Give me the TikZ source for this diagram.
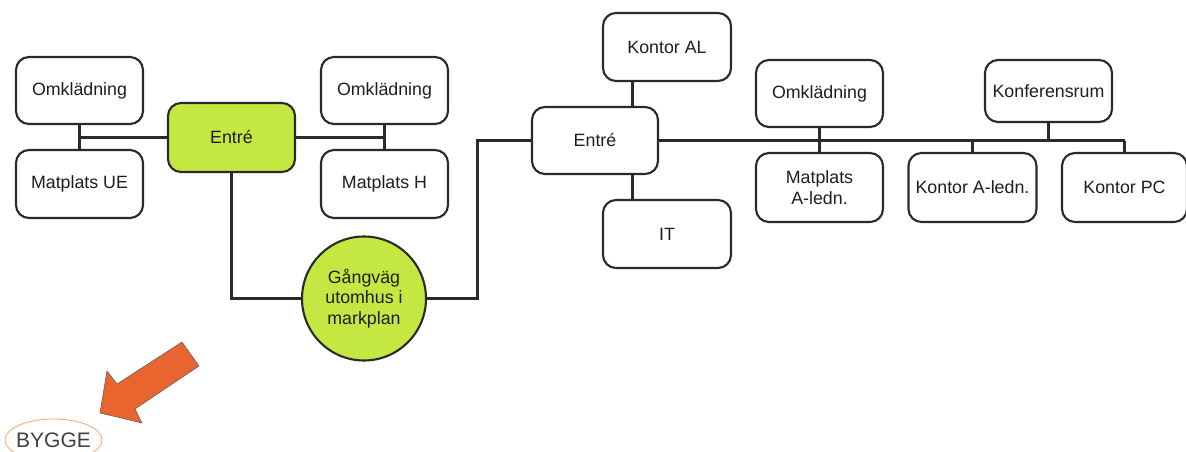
\documentclass[tikz,border=0pt]{standalone}
\usepackage{fontspec}
\setmainfont{Liberation Sans}
\definecolor{edge}{HTML}{2A2A2A}
\definecolor{lime}{HTML}{C4E841}
\definecolor{arroworange}{HTML}{E8652F}
\definecolor{ringorange}{HTML}{F5A56C}
\definecolor{txt}{HTML}{1E1E1E}
\tikzset{
  room/.style={draw=edge, line width=2.1pt, rounded corners=13pt, fill=white,
    inner sep=0pt, align=center, text=txt,
    font=\fontsize{17.8}{20.5}\selectfont},
  greenroom/.style={room, fill=lime},
  path node/.style={circle, draw=edge, line width=2.1pt, fill=lime, inner sep=0pt,
    minimum size=124pt, align=center, text=txt, font=\fontsize{17.8}{20.5}\selectfont},
  link/.style={draw=edge, line width=2.2pt},
}
\begin{document}
\begin{tikzpicture}[x=1pt, y=-1pt]
\useasboundingbox (0,0) rectangle (1186,452);

\coordinate (bend) at (477.5,298.5);
\coordinate (vline) at (632.5,0);

% left building part
\node[room, minimum width=127pt, minimum height=67pt] (omkL) at (79.5,90.5) {Omklädning};
\node[room, minimum width=127pt, minimum height=68pt] (matUE) at (79.5,184) {Matplats UE};
\node[greenroom, minimum width=127pt, minimum height=69pt] (entreL) at (231.5,137.5) {Entré};
\node[room, minimum width=127pt, minimum height=67pt] (omkR) at (384.5,90.5) {Omklädning};
\node[room, minimum width=127pt, minimum height=68pt] (matH) at (384.5,184) {Matplats H};

% outdoor walkway
\node[path node] (walk) at (364,298.5) {Gångväg\\utomhus i\\markplan};

% right building part
\node[room, minimum width=126pt, minimum height=67pt] (entreR) at (595,140.5) {Entré};
\node[room, minimum width=128pt, minimum height=68pt] (kAL) at (667,47) {Kontor AL};
\node[room, minimum width=128pt, minimum height=68pt] (it) at (667,234) {IT};
\node[room, minimum width=127pt, minimum height=67pt] (omk3) at (819.5,93.5) {Omklädning};
\node[room, minimum width=127pt, minimum height=69pt] (matA) at (819.5,187.5) {Matplats\\A-ledn.};
\node[room, minimum width=127pt, minimum height=62pt] (konf) at (1048.5,91) {Konferensrum};
\node[room, minimum width=128pt, minimum height=69pt] (kA) at (972.5,187.5) {Kontor A-ledn.};
\node[room, minimum width=125pt, minimum height=69pt] (kPC) at (1124.5,187.5) {Kontor PC};

% connectors, left part
\draw[link] (omkL.south) -- (matUE.north);
\draw[link] (omkL.south |- entreL.west) -- (entreL.west);
\draw[link] (omkR.south) -- (matH.north);
\draw[link] (entreL.east) -- (omkR.south |- entreL.east);
\draw[link] (entreL.south) |- (walk.west);

% walkway to right entrance
\draw[link] (walk.east) -- (bend) |- (entreR.west);

% connectors, right part
\draw[link] (kAL.south -| vline) -- (entreR.north -| vline);
\draw[link] (entreR.south -| vline) -- (it.north -| vline);
\draw[link] (entreR.east) -- (kPC.north |- entreR.east);
\draw[link] (omk3.south) -- (matA.north);
\draw[link] (konf.south) -- (konf.south |- entreR.east);
\draw[link] (kA.north |- entreR.east) -- (kA.north);
\draw[link] (kPC.north |- entreR.east) -- (kPC.north);

% pointer arrow
\coordinate (a1) at (182,342);
\coordinate (a2) at (117,384);
\coordinate (a3) at (107,371);
\coordinate (a4) at (100,413);
\coordinate (a5) at (142,423);
\coordinate (a6) at (135,409);
\coordinate (a7) at (199,366);
\draw[fill=arroworange, draw=gray!70!black, line width=0.5pt, line join=miter]
  (a1) -- (a2) -- (a3) -- (a4) -- (a5) -- (a6) -- (a7) -- cycle;

% label with its ring
\node[inner sep=0pt, text=black!75, font=\fontsize{21}{24}\selectfont] (bygge) at (53.5,440) {BYGGE};
\draw[ringorange, line width=0.8pt] (bygge.center) ellipse [x radius=48.5pt, y radius=21pt];
\end{tikzpicture}
\end{document}
